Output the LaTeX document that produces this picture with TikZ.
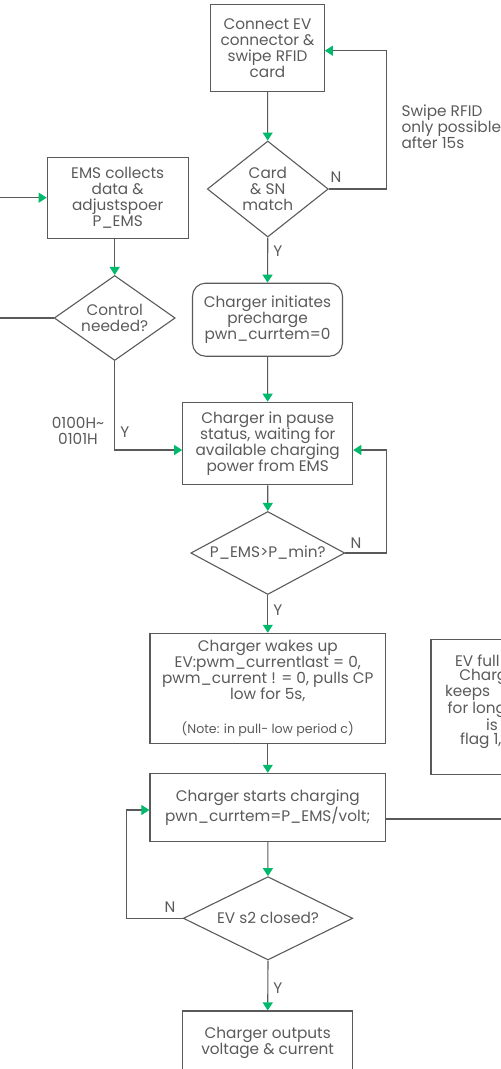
\documentclass[tikz,border=0pt]{standalone}
\usepackage{fontspec}
\setmainfont{Poppins}
\usetikzlibrary{shapes.geometric}
\usetikzlibrary{arrows.meta}
\definecolor{linegray}{HTML}{5A5A5A}
\definecolor{tipgreen}{HTML}{00B96B}
\newcommand{\cutline}[2]{\makebox[#1pt][l]{#2}}

\begin{document}
\begin{tikzpicture}[x=1pt,y=-1pt,
  every node/.style={font=\fontsize{15.3}{15.9}\selectfont,text=linegray,align=center},
  proc/.style={draw=linegray,line width=1.1pt,inner sep=0pt},
  decide/.style={draw=linegray,line width=1.1pt,shape=diamond,inner sep=0pt},
  flow/.style={draw=linegray,line width=1.1pt,-{Triangle[color=tipgreen,width=10pt,length=8pt]}},
  link/.style={draw=linegray,line width=1.1pt},
  yn/.style={inner sep=1pt}]
\useasboundingbox (0,0) rectangle (501,1069);
\clip (0,0) rectangle (501,1069);

% main column
\node[proc,minimum width=113.6pt,minimum height=87pt] (conn) at (267.5,48) {Connect EV\\connector \&\\swipe RFID\\card};
\node[decide,minimum width=121pt,minimum height=96pt,aspect=1.26] (card) at (267.8,189) {Card\\\& SN\\match};
\node[proc,rounded corners=13pt,minimum width=150pt,minimum height=73pt] (pre) at (267.5,319.7) {Charger initiates\\precharge\\pwn\_currtem=0};
\node[proc,minimum width=170pt,minimum height=82.5pt] (pause) at (267.7,443.5) {Charger in pause\\status, waiting for\\available charging\\power from EMS};
\node[decide,minimum width=154pt,minimum height=83pt,aspect=1.86] (pmin) at (267.8,553) {P\_EMS>P\_min?};
\node[proc,minimum width=235.7pt,minimum height=110pt] (wake) at (267.8,688.3) {Charger wakes up\\EV:pwm\_currentlast = 0,\\pwm\_current ! = 0, pulls CP\\low for 5s,\\[18pt]{\fontsize{12.6}{15}\selectfont(Note: in pull- low period c)}};
\node[proc,minimum width=235.7pt,minimum height=68.3pt] (start) at (267.8,807.5) {Charger starts charging\\pwn\_currtem=P\_EMS/volt;};
\node[decide,minimum width=169.4pt,minimum height=83.3pt,aspect=2.03] (s2) at (268,918.3) {EV s2 closed?};
\node[proc,minimum width=170pt,minimum height=64pt] (out) at (267.7,1043) {Charger outputs\\voltage \& current};

% EMS side
\node[proc,minimum width=141pt,minimum height=81pt] (ems) at (117.7,197.7) {EMS collects\\data \&\\adjustspoer\\P\_EMS};
\node[decide,minimum width=121pt,minimum height=85pt,aspect=1.42] (ctrl) at (114.7,318) {Control\\needed?};
\node[proc,minimum width=122pt,minimum height=134.7pt,font=\fontsize{15.3}{14.3}\selectfont] (full) at (492,706.7) {\cutline{74}{EV full}\\\cutline{65.4}{Charg}\\\cutline{94}{keeps}\\\cutline{88.6}{for long}\\is\\\cutline{64}{flag 1,}\\ \mbox{}};

\node (swipe) at (398,127) [anchor=west,align=left] {Swipe RFID\\only possible\\after 15s};
\node (regs) at (78,431) {0100H\textasciitilde\\0101H};
\node[yn] (cardN) at (336,177) {N};
\node[yn] (pminN) at (356,543) {N};
\node[yn] (s2N) at (170,907.3) {N};

\coordinate (emsin) at (0,197.7);
\coordinate (ctrlout) at (0,318);
\coordinate (startout) at (501,819);

\draw[flow] (conn) -- (card);
\draw[flow] (card.east) -- ++(57.9,0) |- ([yshift=-2.7pt]conn.east);
\draw[flow] (card.south) -- node[yn,pos=0.3,right=4pt] (cardY) {Y} (pre.north);
\draw[flow] (pre) -- (pause);
\draw[flow] (pause) -- (pmin);
\draw[flow] (pmin.east) -- ++(40.7,0) |- ([yshift=-6.5pt]pause.east);
\draw[flow] (pmin.south) -- node[yn,pos=0.4,right=4pt] (pminY) {Y} (wake.north);
\draw[flow] (wake) -- (start);
\draw[link] (start.east |- startout) -- (startout);
\draw[flow] (start) -- (s2);
\draw[flow] (s2.west) -- ++(-56.6,0) |- ([yshift=-2.5pt]start.west);
\draw[flow] (s2.south) -- node[yn,pos=0.55,right=4pt] (s2Y) {Y} (out.north);

\draw[flow] (emsin) -- (ems.west);
\draw[flow] (ctrl.north |- ems.south) -- (ctrl.north);
\draw[link] (ctrl.west) -- (ctrlout);
\draw[flow] (ctrl.south) |- node[yn,pos=0.4,right=4pt] (ctrlY) {Y} ([yshift=-6.5pt]pause.west);
\end{tikzpicture}
\end{document}
